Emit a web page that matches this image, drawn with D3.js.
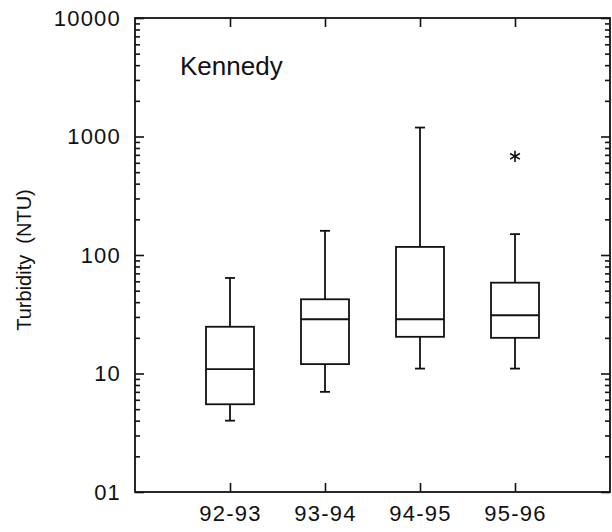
<!DOCTYPE html>
<html>
<head>
<meta charset="utf-8">
<script src="https://cdn.jsdelivr.net/npm/d3@7"></script>
<style>
  body { margin: 0; background: #fff; }
  svg { display: block; }
  text { font-family: "Liberation Sans", Arial, sans-serif; fill: #111; }
  .axis path { display: none; }
  .axis line { stroke: #111; stroke-width: 1.6; }
  .box { fill: none; stroke: #111; stroke-width: 1.8; }
</style>
</head>
<body>
<svg id="chart" width="612" height="532"></svg>
<script>
// seasons on the x axis
const categories = ["92-93", "93-94", "94-95", "95-96"];

// box plot stats, turbidity in NTU
const whiskerLow = [4.0, 7.0, 11, 11];
const q1 = [5.5, 12, 20.4, 20];
const median = [10.9, 28.7, 28.7, 31];
const q3 = [24.8, 42.3, 117, 58.4];
const whiskerHigh = [64, 160, 1190, 150];

// the one outlier (asterisk)
const outlierCats = ["95-96"];
const outlierValues = [680];

// y ticks
const yTickValues = [1, 10, 100, 1000, 10000];
const yTickLabels = ["01", "10", "100", "1000", "10000"];
const yMinorValues = [];
for (let i = 0; i < yTickValues.length - 1; i++) {
  for (let k = 2; k <= 9; k++) yMinorValues.push(yTickValues[i] * k);
}

const svg = d3.select("#chart");

const x = d3.scalePoint()
  .domain(categories)
  .range([135, 610])
  .padding(1);

const y = d3.scaleLog()
  .domain([1, 10000])
  .range([492, 18]);

const [x0, x1] = x.range();
const [y0, y1] = y.range();

// frame
svg.append("rect")
  .attr("x", x0)
  .attr("y", y1)
  .attr("width", x1 - x0)
  .attr("height", y0 - y1)
  .attr("fill", "none")
  .attr("stroke", "#111")
  .attr("stroke-width", 1.8);

// bottom axis, ticks pointing in
svg.append("g")
  .attr("class", "axis")
  .attr("transform", "translate(0," + y0 + ")")
  .call(d3.axisBottom(x).tickSizeInner(-9).tickSizeOuter(0).tickPadding(13))
  .call(g => g.selectAll("text")
    .style("font-size", "22px")
    .style("letter-spacing", "1.2px"));

// top axis, ticks only
svg.append("g")
  .attr("class", "axis")
  .attr("transform", "translate(0," + y1 + ")")
  .call(d3.axisTop(x).tickSizeInner(-9).tickSizeOuter(0).tickFormat(""));

// left axis
svg.append("g")
  .attr("class", "axis")
  .attr("transform", "translate(" + x0 + ",0)")
  .call(d3.axisLeft(y)
    .tickValues(yTickValues)
    .tickFormat((d, i) => yTickLabels[i])
    .tickSizeInner(-9)
    .tickSizeOuter(0)
    .tickPadding(14))
  .call(g => g.selectAll("text")
    .style("font-size", "22px")
    .style("letter-spacing", "1.2px"));

svg.append("g")
  .attr("class", "axis")
  .attr("transform", "translate(" + x0 + ",0)")
  .call(d3.axisLeft(y).tickValues(yMinorValues).tickSizeInner(-5).tickSizeOuter(0).tickFormat(""));

// right axis, ticks only
svg.append("g")
  .attr("class", "axis")
  .attr("transform", "translate(" + x1 + ",0)")
  .call(d3.axisRight(y).tickValues(yTickValues).tickSizeInner(-9).tickSizeOuter(0).tickFormat(""));

svg.append("g")
  .attr("class", "axis")
  .attr("transform", "translate(" + x1 + ",0)")
  .call(d3.axisRight(y).tickValues(yMinorValues).tickSizeInner(-5).tickSizeOuter(0).tickFormat(""));

// boxes
const boxW = 48;
const capW = 10;

const boxes = svg.selectAll(".boxg")
  .data(categories)
  .enter()
  .append("g")
  .attr("class", "boxg");

// upper whisker
boxes.append("line").attr("class", "box")
  .attr("x1", d => x(d)).attr("x2", d => x(d))
  .attr("y1", (d, i) => y(q3[i])).attr("y2", (d, i) => y(whiskerHigh[i]));
boxes.append("line").attr("class", "box")
  .attr("x1", d => x(d) - capW / 2).attr("x2", d => x(d) + capW / 2)
  .attr("y1", (d, i) => y(whiskerHigh[i])).attr("y2", (d, i) => y(whiskerHigh[i]));

// lower whisker
boxes.append("line").attr("class", "box")
  .attr("x1", d => x(d)).attr("x2", d => x(d))
  .attr("y1", (d, i) => y(q1[i])).attr("y2", (d, i) => y(whiskerLow[i]));
boxes.append("line").attr("class", "box")
  .attr("x1", d => x(d) - capW / 2).attr("x2", d => x(d) + capW / 2)
  .attr("y1", (d, i) => y(whiskerLow[i])).attr("y2", (d, i) => y(whiskerLow[i]));

// box
boxes.append("rect").attr("class", "box")
  .attr("x", d => x(d) - boxW / 2)
  .attr("width", boxW)
  .attr("y", (d, i) => y(q3[i]))
  .attr("height", (d, i) => y(q1[i]) - y(q3[i]));

// median
boxes.append("line").attr("class", "box")
  .attr("x1", d => x(d) - boxW / 2).attr("x2", d => x(d) + boxW / 2)
  .attr("y1", (d, i) => y(median[i])).attr("y2", (d, i) => y(median[i]));

// outlier asterisk
svg.selectAll(".outlier")
  .data(outlierCats)
  .enter()
  .append("path")
  .attr("class", "outlier")
  .attr("d", d3.symbol().type(d3.symbolAsterisk).size(90))
  .attr("transform", (d, i) => "translate(" + x(d) + "," + y(outlierValues[i]) + ")")
  .attr("fill", "none")
  .attr("stroke", "#111")
  .attr("stroke-width", 1.6);

// station name
svg.append("text")
  .attr("x", 180)
  .attr("y", 75)
  .style("font-size", "26px")
  .text("Kennedy");

// y axis title
svg.append("text")
  .attr("transform", "translate(24," + ((y0 + y1) / 2 + 5) + ") rotate(-90)")
  .attr("text-anchor", "middle")
  .attr("dominant-baseline", "central")
  .style("font-size", "20px")
  .style("white-space", "pre")
  .text("Turbidity  (NTU)");
</script>
</body>
</html>
